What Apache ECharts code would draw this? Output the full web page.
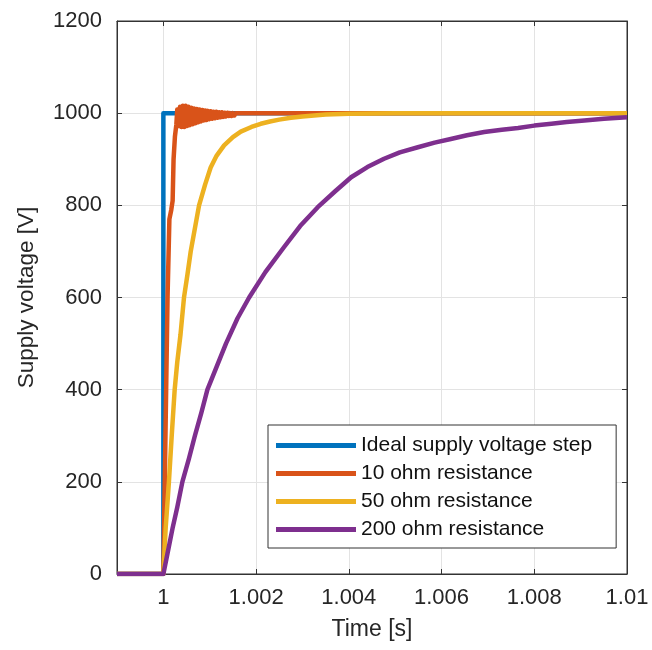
<!DOCTYPE html>
<html>
<head>
<meta charset="utf-8">
<script src="https://cdn.jsdelivr.net/npm/echarts@6/dist/echarts.min.js"></script>
<style>html,body{margin:0;padding:0;background:#fff}#c{width:652px;height:650px}</style>
</head>
<body>
<div id="c"></div>
<script>
// time values are milliseconds after t = 1 s; points are [time_ms, voltage]
const xTickValues = [0, 2, 4, 6, 8, 10];
const xTickLabels = ['1', '1.002', '1.004', '1.006', '1.008', '1.01'];

const seriesNames = ['Ideal supply voltage step', '10 ohm resistance', '50 ohm resistance', '200 ohm resistance'];

const idealStep = [[-1, 0], [0, 0], [0, 1000], [10, 1000]];

const r10 = [[-1, 0], [0, 0], [0.03, 200], [0.06, 400], [0.09, 600], [0.13, 770], [0.17, 790],
  [0.20, 810], [0.22, 900], [0.25, 950], [0.28, 975],
  [0.30, 1008], [0.33, 972], [0.36, 1014], [0.39, 970], [0.42, 1016], [0.45, 970],
  [0.48, 1016], [0.51, 972], [0.54, 1014], [0.57, 974], [0.60, 1012], [0.63, 976],
  [0.66, 1010], [0.69, 978], [0.72, 1009], [0.75, 980], [0.78, 1008], [0.81, 982],
  [0.84, 1007], [0.87, 984], [0.90, 1006], [0.93, 985], [0.96, 1005], [0.99, 987],
  [1.02, 1004], [1.05, 988], [1.08, 1003], [1.11, 989], [1.14, 1003], [1.17, 990],
  [1.20, 1002], [1.23, 991], [1.26, 1002], [1.29, 992], [1.32, 1001], [1.35, 993],
  [1.38, 1001], [1.41, 994], [1.44, 1000], [1.47, 994], [1.50, 1000], [1.53, 995],
  [1.56, 1000], [1.59, 996], [1.62, 1000], [1.65, 996], [1.68, 1000], [1.71, 997],
  [1.74, 1000], [1.77, 997], [1.80, 1000], [1.83, 998], [1.86, 1000], [1.89, 998],
  [1.92, 1000], [1.95, 999], [1.98, 1000], [2.01, 999], [2.04, 1000], [2.07, 999],
  [2.10, 1000], [2.30, 1000], [10, 1000]];

const r50 = [[-1, 0], [0, 0], [0.05, 100], [0.12, 200], [0.18, 300], [0.244, 400], [0.30, 460],
  [0.37, 520], [0.445, 600], [0.52, 650], [0.59, 700], [0.68, 750], [0.77, 800], [0.90, 845],
  [1.02, 882], [1.15, 908], [1.31, 930], [1.50, 948], [1.67, 960], [1.90, 970], [2.10, 977],
  [2.30, 982], [2.50, 986], [2.75, 990], [3.00, 993], [3.50, 997], [4.00, 999], [5.00, 1000], [10, 1000]];

const r200 = [[-1, 0], [0, 0], [0.10, 50], [0.20, 100], [0.30, 145], [0.41, 200], [0.55, 250],
  [0.68, 300], [0.82, 350], [0.95, 400], [1.15, 450], [1.35, 500], [1.60, 555], [1.85, 600],
  [2.20, 655], [2.60, 709], [2.95, 755], [3.33, 796], [3.70, 830], [4.05, 861], [4.40, 883],
  [4.76, 901], [5.10, 915], [5.49, 926], [5.85, 936], [6.20, 944], [6.55, 952], [6.92, 959],
  [7.30, 964], [7.65, 968], [8.00, 973], [8.37, 977], [8.70, 981], [9.08, 984], [9.50, 988], [10, 991]];

const colors = ['#0072BD', '#D95319', '#EDB120', '#7E2F8E'];
const dataSets = [idealStep, r10, r50, r200];

const font = '"Liberation Sans", Arial, Helvetica, sans-serif';
const axisCol = '#333333';
const textCol = '#262626';
const gridCol = '#e3e3e3';

const chart = echarts.init(document.getElementById('c'), null, {renderer: 'canvas'});
chart.setOption({
  animation: false,
  backgroundColor: '#ffffff',
  grid: {left: 117, right: 25, top: 21, bottom: 76, containLabel: false,
         show: true, borderColor: axisCol, borderWidth: 1},
  xAxis: [{
    type: 'value', min: -1, max: 10,
    name: 'Time [s]', nameLocation: 'middle', nameGap: 44,
    nameTextStyle: {fontFamily: font, fontSize: 23, color: textCol},
    axisLine: {show: true, onZero: false, lineStyle: {color: axisCol, width: 1}},
    axisTick: {show: true, inside: true, length: 5, customValues: xTickValues, lineStyle: {color: axisCol}},
    axisLabel: {customValues: xTickValues, margin: 13, fontFamily: font, fontSize: 22, color: textCol,
      formatter: v => xTickLabels[xTickValues.indexOf(v)]},
    splitLine: {show: true, lineStyle: {color: gridCol, width: 1}}
  }, {
    type: 'value', min: -1, max: 10, position: 'top',
    axisLine: {show: true, onZero: false, lineStyle: {color: axisCol, width: 1}},
    axisTick: {show: true, inside: true, length: 5, customValues: xTickValues, lineStyle: {color: axisCol}},
    axisLabel: {show: false, customValues: xTickValues},
    splitLine: {show: false}
  }],
  yAxis: [{
    type: 'value', min: 0, max: 1200, interval: 200,
    name: 'Supply voltage [V]', nameLocation: 'middle', nameGap: 79,
    nameTextStyle: {fontFamily: font, fontSize: 22.5, color: textCol},
    axisLine: {show: true, onZero: false, lineStyle: {color: axisCol, width: 1}},
    axisTick: {show: true, inside: true, length: 5, lineStyle: {color: axisCol}},
    axisLabel: {margin: 15, fontFamily: font, fontSize: 22, color: textCol, formatter: v => String(v)},
    splitLine: {show: true, lineStyle: {color: gridCol, width: 1}}
  }, {
    type: 'value', min: 0, max: 1200, interval: 200, position: 'right',
    axisLine: {show: true, onZero: false, lineStyle: {color: axisCol, width: 1}},
    axisTick: {show: true, inside: true, length: 5, lineStyle: {color: axisCol}},
    axisLabel: {show: false},
    splitLine: {show: false}
  }],
  legend: {
    orient: 'vertical', left: 268, top: 425,
    data: seriesNames,
    icon: 'rect', itemWidth: 80, itemHeight: 5, itemGap: 7,
    padding: [10, 24, 8, 8],
    backgroundColor: '#ffffff', borderColor: axisCol, borderWidth: 1,
    textStyle: {fontFamily: font, fontSize: 21, lineHeight: 21, color: '#111'}
  },
  series: seriesNames.map((n, i) => ({
    name: n, type: 'line', data: dataSets[i], showSymbol: false, symbol: 'none',
    smooth: false, xAxisIndex: 0, yAxisIndex: 0,
    lineStyle: {color: colors[i], width: 4.5, join: 'round'}, itemStyle: {color: colors[i]}
  }))
});
</script>
</body>
</html>
